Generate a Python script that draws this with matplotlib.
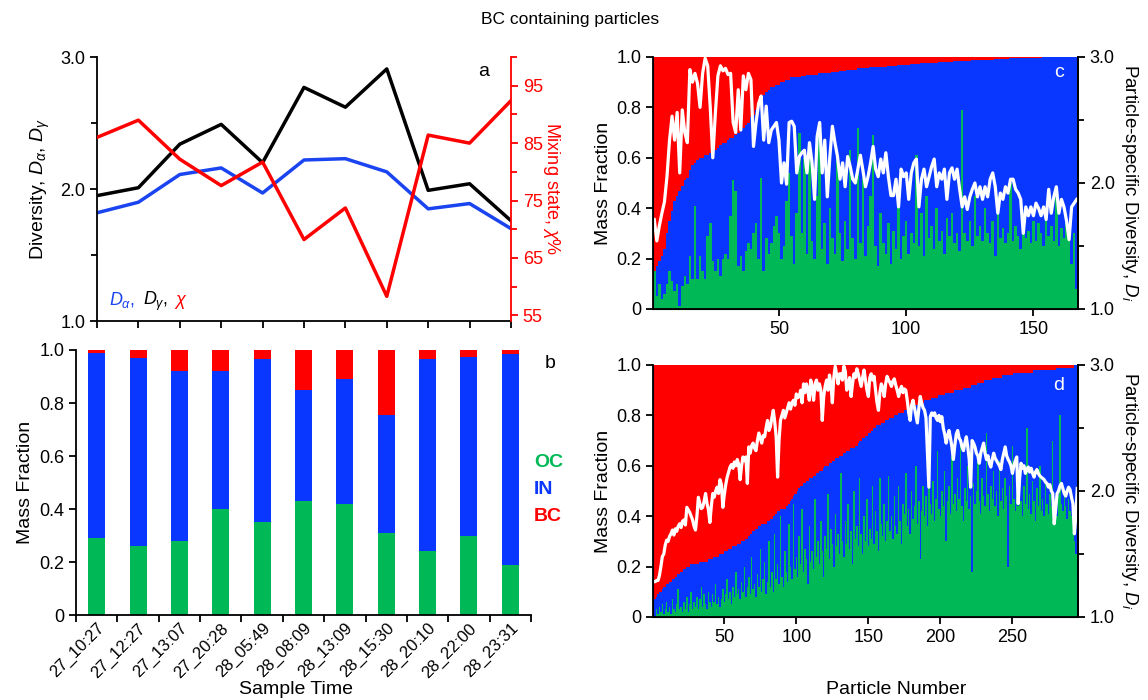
import numpy as np
import matplotlib
matplotlib.use("Agg")
import matplotlib.pyplot as plt
import matplotlib.transforms as mtransforms

plt.rcParams["font.family"] = ["Liberation Sans", "DejaVu Sans"]
plt.rcParams["mathtext.fontset"] = "custom"
plt.rcParams["mathtext.rm"] = "Liberation Sans"
plt.rcParams["mathtext.it"] = "Liberation Sans:italic"
plt.rcParams["font.size"] = 13

GREEN = "#00b956"
BLUE = "#0a37ff"
RED = "#ff0000"

# panel a / b: per-sample values
SAMPLE_TIMES = ["27_10:27", "27_12:27", "27_13:07", "27_20:28", "28_05:49", "28_08:09",
                "28_13:09", "28_15:30", "28_20:10", "28_22:00", "28_23:31"]
D_ALPHA = [1.82, 1.90, 2.11, 2.16, 1.97, 2.22, 2.23, 2.13, 1.85, 1.89, 1.70]
D_GAMMA = [1.95, 2.01, 2.34, 2.49, 2.20, 2.77, 2.62, 2.91, 1.99, 2.04, 1.76]
CHI = [86.0, 89.0, 82.2, 77.6, 81.7, 68.2, 73.7, 58.3, 86.4, 85.0, 92.4]
OC_MF = [0.29, 0.26, 0.28, 0.40, 0.35, 0.43, 0.42, 0.31, 0.24, 0.30, 0.19]
IN_MF = [0.70, 0.71, 0.64, 0.52, 0.615, 0.42, 0.47, 0.445, 0.725, 0.675, 0.795]
BC_MF = [0.01, 0.03, 0.08, 0.08, 0.035, 0.15, 0.11, 0.245, 0.035, 0.025, 0.015]

# panel c: 167 particles
C_OC = [0.15, 0.05, 0.10, 0.04, 0.06, 0.10, 0.15, 0.11, 0.07, 0.10,
        0.01, 0.09, 0.13, 0.10, 0.21, 0.12, 0.41, 0.12, 0.21, 0.15,
        0.12, 0.29, 0.34, 0.19, 0.15, 0.20, 0.13, 0.20, 0.22, 0.20,
        0.37, 0.51, 0.47, 0.17, 0.21, 0.15, 0.23, 0.26, 0.24, 0.30,
        0.34, 0.20, 0.52, 0.15, 0.28, 0.22, 0.26, 0.33, 0.37, 0.30,
        0.20, 0.25, 0.43, 0.54, 0.29, 0.18, 0.38, 0.70, 0.30, 0.60,
        0.22, 0.64, 0.27, 0.20, 0.45, 0.74, 0.24, 0.34, 0.18, 0.40,
        0.28, 0.22, 0.59, 0.30, 0.19, 0.35, 0.24, 0.63, 0.28, 0.20,
        0.72, 0.26, 0.52, 0.21, 0.33, 0.45, 0.69, 0.25, 0.17, 0.38,
        0.26, 0.22, 0.34, 0.18, 0.31, 0.24, 0.42, 0.20, 0.29, 0.35,
        0.22, 0.30, 0.26, 0.61, 0.25, 0.38, 0.21, 0.45, 0.28, 0.33,
        0.24, 0.40, 0.27, 0.31, 0.22, 0.36, 0.29, 0.38, 0.26, 0.30,
        0.23, 0.79, 0.30, 0.27, 0.35, 0.25, 0.45, 0.29, 0.33, 0.27,
        0.40, 0.30, 0.26, 0.35, 0.21, 0.45, 0.28, 0.32, 0.26, 0.30,
        0.50, 0.27, 0.33, 0.29, 0.24, 0.38, 0.28, 0.31, 0.26, 0.35,
        0.27, 0.34, 0.30, 0.25, 0.36, 0.29, 0.33, 0.27, 0.44, 0.25,
        0.32, 0.28, 0.34, 0.29, 0.18, 0.30, 0.08]
C_OC_IN = [0.15, 0.17, 0.19, 0.21, 0.24, 0.30, 0.35, 0.39, 0.43, 0.45,
           0.47, 0.49, 0.51, 0.52, 0.55, 0.57, 0.58, 0.59, 0.60, 0.60,
           0.61, 0.61, 0.62, 0.62, 0.63, 0.64, 0.65, 0.66, 0.66, 0.67,
           0.68, 0.68, 0.69, 0.70, 0.71, 0.72, 0.73, 0.74, 0.76, 0.77,
           0.79, 0.81, 0.83, 0.85, 0.86, 0.87, 0.88, 0.88, 0.89, 0.89,
           0.90, 0.90, 0.91, 0.91, 0.92, 0.92, 0.92, 0.92, 0.925, 0.925,
           0.93, 0.93, 0.93, 0.93, 0.93, 0.935, 0.935, 0.935, 0.935, 0.935,
           0.94, 0.94, 0.94, 0.945, 0.945, 0.945, 0.95, 0.95, 0.95, 0.95,
           0.955, 0.955, 0.955, 0.955, 0.955, 0.96, 0.96, 0.96, 0.96, 0.96,
           0.96, 0.96, 0.965, 0.965, 0.965, 0.965, 0.97, 0.97, 0.97, 0.97,
           0.97, 0.972, 0.972, 0.974, 0.974, 0.975, 0.975, 0.976, 0.976, 0.977,
           0.977, 0.978, 0.979, 0.98, 0.98, 0.981, 0.982, 0.982, 0.983, 0.984,
           0.984, 0.985, 0.985, 0.986, 0.986, 0.987, 0.987, 0.988, 0.988, 0.989,
           0.989, 0.99, 0.99, 0.99, 0.991, 0.991, 0.992, 0.992, 0.993, 0.993,
           0.994, 0.994, 0.994, 0.995, 0.995, 0.995, 0.996, 0.996, 0.996, 0.997,
           0.997, 0.997, 0.997, 0.998, 0.998, 0.998, 0.998, 0.999, 0.999, 0.999,
           0.999, 0.999, 1.0, 1.0, 1.0, 1.0, 1.0]
C_DIV = [1.71, 1.54, 1.66, 1.76, 1.85, 2.05, 2.34, 2.53, 2.34, 2.56,
         2.08, 2.58, 2.40, 2.32, 2.90, 2.80, 2.87, 2.79, 2.60, 2.87,
         2.99, 2.93, 2.60, 2.20, 2.55, 2.85, 2.93, 2.89, 2.91, 2.86,
         2.87, 2.48, 2.40, 2.74, 2.42, 2.85, 2.74, 2.87, 2.82, 2.29,
         2.48, 2.63, 2.69, 2.34, 2.61, 2.32, 2.42, 2.45, 2.48, 2.34,
         2.00, 2.16, 1.99, 2.48, 2.49, 2.45, 2.08, 2.21, 2.24, 2.26,
         2.08, 2.32, 2.16, 1.87, 2.37, 2.48, 2.08, 2.34, 1.89, 2.21,
         2.45, 2.32, 2.21, 2.03, 2.16, 1.97, 2.21, 2.13, 2.03, 2.00,
         2.11, 2.22, 2.10, 1.97, 2.05, 2.16, 2.29, 2.11, 2.05, 2.19,
         2.08, 2.24, 2.05, 1.90, 1.90, 2.03, 1.81, 2.11, 2.05, 2.08,
         1.87, 2.08, 2.16, 2.19, 1.81, 2.03, 2.11, 1.97, 2.05, 2.13,
         2.19, 1.97, 2.08, 2.03, 2.11, 1.87, 2.08, 2.12, 2.03, 2.11,
         1.95, 1.81, 1.89, 1.79, 1.89, 1.95, 2.00, 1.89, 1.97, 1.87,
         1.97, 1.89, 2.03, 2.08, 1.97, 1.76, 1.92, 1.87, 1.97, 1.92,
         2.03, 2.03, 1.95, 1.92, 1.87, 1.60, 1.81, 1.74, 1.81, 1.74,
         1.84, 1.80, 1.74, 1.81, 1.71, 1.95, 1.76, 1.89, 1.97, 1.76,
         1.87, 1.81, 1.70, 1.55, 1.81, 1.84, 1.87]

# panel d: 295 particles
D_OC = [0.02, 0.00, 0.03, 0.01, 0.04, 0.02, 0.05, 0.01, 0.03, 0.06,
        0.02, 0.04, 0.01, 0.07, 0.03, 0.02, 0.05, 0.11, 0.03, 0.04,
        0.02, 0.06, 0.03, 0.08, 0.02, 0.05, 0.10, 0.03, 0.06, 0.04,
        0.08, 0.03, 0.07, 0.12, 0.04, 0.09, 0.05, 0.03, 0.10, 0.06,
        0.04, 0.09, 0.06, 0.13, 0.05, 0.08, 0.04, 0.07, 0.11, 0.06,
        0.09, 0.15, 0.07, 0.10, 0.05, 0.12, 0.08, 0.18, 0.09, 0.11,
        0.07, 0.14, 0.10, 0.20, 0.08, 0.12, 0.16, 0.09, 0.24, 0.11,
        0.13, 0.08, 0.17, 0.12, 0.27, 0.10, 0.15, 0.22, 0.09, 0.14,
        0.30, 0.12, 0.18, 0.10, 0.33, 0.15, 0.21, 0.13, 0.40, 0.16,
        0.12, 0.26, 0.18, 0.14, 0.37, 0.20, 0.15, 0.45, 0.19, 0.24,
        0.16, 0.32, 0.21, 0.43, 0.18, 0.27, 0.23, 0.13, 0.36, 0.22,
        0.26, 0.19, 0.47, 0.24, 0.30, 0.21, 0.38, 0.26, 0.16, 0.32,
        0.27, 0.49, 0.23, 0.35, 0.29, 0.20, 0.41, 0.28, 0.33, 0.25,
        0.57, 0.30, 0.24, 0.38, 0.29, 0.45, 0.27, 0.34, 0.21, 0.50,
        0.31, 0.36, 0.28, 0.55, 0.33, 0.25, 0.40, 0.30, 0.47, 0.28,
        0.35, 0.31, 0.52, 0.29, 0.42, 0.34, 0.26, 0.55, 0.37, 0.32,
        0.45, 0.30, 0.38, 0.56, 0.34, 0.40, 0.31, 0.48, 0.36, 0.33,
        0.52, 0.38, 0.29, 0.45, 0.41, 0.57, 0.36, 0.43, 0.33, 0.50,
        0.39, 0.44, 0.60, 0.37, 0.46, 0.23, 0.42, 0.52, 0.40, 0.48,
        0.36, 0.62, 0.45, 0.41, 0.54, 0.38, 0.47, 0.66, 0.43, 0.40,
        0.50, 0.44, 0.58, 0.30, 0.46, 0.52, 0.41, 0.64, 0.45, 0.49,
        0.42, 0.55, 0.47, 0.70, 0.44, 0.38, 0.51, 0.46, 0.60, 0.43,
        0.48, 0.18, 0.53, 0.45, 0.50, 0.62, 0.46, 0.41, 0.55, 0.48,
        0.44, 0.73, 0.49, 0.42, 0.52, 0.47, 0.58, 0.44, 0.50, 0.40,
        0.62, 0.46, 0.51, 0.43, 0.55, 0.48, 0.20, 0.52, 0.45, 0.68,
        0.47, 0.42, 0.50, 0.44, 0.57, 0.46, 0.40, 0.52, 0.45, 0.75,
        0.43, 0.49, 0.41, 0.54, 0.46, 0.38, 0.51, 0.44, 0.60, 0.42,
        0.47, 0.40, 0.53, 0.45, 0.41, 0.49, 0.44, 0.70, 0.43, 0.46,
        0.40, 0.48, 0.80, 0.45, 0.42, 0.50, 0.44, 0.39, 0.47, 0.42,
        0.40, 0.38, 0.30, 0.25, 0.15]
D_OC_IN = [0.06, 0.07, 0.08, 0.09, 0.10, 0.10, 0.11, 0.12, 0.12, 0.13,
           0.13, 0.14, 0.14, 0.15, 0.15, 0.16, 0.16, 0.17, 0.17, 0.18,
           0.18, 0.19, 0.19, 0.20, 0.20, 0.20, 0.21, 0.21, 0.21, 0.21,
           0.21, 0.21, 0.22, 0.22, 0.22, 0.22, 0.22, 0.22, 0.23, 0.23,
           0.23, 0.23, 0.24, 0.24, 0.24, 0.24, 0.25, 0.25, 0.25, 0.26,
           0.26, 0.26, 0.27, 0.27, 0.27, 0.28, 0.28, 0.28, 0.29, 0.29,
           0.29, 0.30, 0.30, 0.30, 0.31, 0.31, 0.32, 0.33, 0.33, 0.34,
           0.34, 0.35, 0.35, 0.36, 0.36, 0.37, 0.37, 0.37, 0.37, 0.38,
           0.38, 0.39, 0.39, 0.40, 0.40, 0.41, 0.42, 0.42, 0.43, 0.43,
           0.43, 0.43, 0.44, 0.44, 0.45, 0.46, 0.47, 0.48, 0.49, 0.49,
           0.50, 0.51, 0.52, 0.52, 0.53, 0.53, 0.54, 0.54, 0.55, 0.55,
           0.55, 0.56, 0.56, 0.57, 0.57, 0.58, 0.58, 0.58, 0.59, 0.60,
           0.60, 0.60, 0.61, 0.61, 0.62, 0.62, 0.63, 0.63, 0.63, 0.64,
           0.64, 0.64, 0.65, 0.65, 0.66, 0.66, 0.66, 0.67, 0.67, 0.67,
           0.68, 0.68, 0.69, 0.70, 0.70, 0.71, 0.71, 0.72, 0.72, 0.73,
           0.73, 0.74, 0.74, 0.75, 0.75, 0.76, 0.76, 0.76, 0.77, 0.77,
           0.77, 0.78, 0.78, 0.78, 0.79, 0.79, 0.79, 0.80, 0.80, 0.80,
           0.81, 0.81, 0.81, 0.81, 0.82, 0.82, 0.82, 0.83, 0.83, 0.83,
           0.84, 0.84, 0.84, 0.84, 0.85, 0.85, 0.85, 0.85, 0.86, 0.86,
           0.86, 0.86, 0.86, 0.87, 0.87, 0.87, 0.87, 0.87, 0.88, 0.88,
           0.88, 0.88, 0.88, 0.89, 0.89, 0.89, 0.89, 0.89, 0.89, 0.90,
           0.90, 0.90, 0.90, 0.90, 0.90, 0.91, 0.91, 0.91, 0.91, 0.91,
           0.91, 0.92, 0.92, 0.92, 0.92, 0.93, 0.93, 0.93, 0.93, 0.93,
           0.94, 0.94, 0.94, 0.94, 0.94, 0.95, 0.95, 0.95, 0.95, 0.95,
           0.95, 0.95, 0.96, 0.96, 0.96, 0.96, 0.96, 0.96, 0.96, 0.96,
           0.97, 0.97, 0.97, 0.97, 0.97, 0.97, 0.97, 0.97, 0.97, 0.97,
           0.97, 0.97, 0.97, 0.97, 0.98, 0.98, 0.98, 0.98, 0.98, 0.98,
           0.98, 0.98, 0.98, 0.98, 0.98, 0.98, 0.98, 0.98, 0.98, 0.98,
           0.99, 0.99, 0.99, 0.99, 0.99, 0.99, 0.99, 0.99, 0.99, 0.99,
           0.99, 0.99, 1.0, 1.0, 1.0]
D_DIV = [1.28, 1.28, 1.29, 1.29, 1.33, 1.40, 1.48, 1.50, 1.57, 1.61,
         1.60, 1.64, 1.66, 1.69, 1.65, 1.70, 1.68, 1.72, 1.74, 1.71,
         1.76, 1.77, 1.73, 1.87, 1.85, 1.83, 1.80, 1.77, 1.72, 1.69,
         1.80, 1.95, 1.90, 1.86, 1.87, 1.92, 1.98, 1.90, 1.85, 1.75,
         1.88, 1.98, 1.95, 2.00, 2.03, 1.98, 2.09, 2.05, 1.87, 1.97,
         2.05, 2.11, 2.15, 2.19, 2.21, 2.18, 2.23, 2.20, 2.25, 2.21,
         2.09, 2.20, 2.27, 2.24, 2.27, 2.06, 2.35, 2.30, 2.36, 2.38,
         2.34, 2.32, 2.40, 2.46, 2.42, 2.38, 2.44, 2.43, 2.50, 2.56,
         2.48, 2.51, 2.58, 2.64, 2.55, 2.43, 2.11, 2.40, 2.56, 2.60,
         2.64, 2.58, 2.62, 2.66, 2.70, 2.65, 2.70, 2.72, 2.68, 2.77,
         2.74, 2.75, 2.80, 2.70, 2.85, 2.78, 2.85, 2.80, 2.72, 2.88,
         2.82, 2.72, 2.85, 2.88, 2.80, 2.85, 2.80, 2.56, 2.75, 2.83,
         2.88, 2.80, 2.92, 2.85, 2.70, 2.90, 2.99, 2.92, 2.85, 2.93,
         2.93, 2.88, 2.99, 2.95, 2.80, 2.83, 2.90, 2.75, 2.85, 2.93,
         2.90, 2.97, 2.93, 2.88, 2.83, 2.90, 2.96, 2.88, 2.80, 2.75,
         2.90, 2.93, 2.88, 2.91, 2.80, 2.70, 2.64, 2.78, 2.85, 2.82,
         2.75, 2.85, 2.91, 2.88, 2.86, 2.83, 2.87, 2.89, 2.84, 2.80,
         2.75, 2.80, 2.83, 2.78, 2.81, 2.80, 2.72, 2.62, 2.56, 2.68,
         2.72, 2.66, 2.60, 2.54, 2.65, 2.75, 2.70, 2.66, 2.64, 2.58,
         2.30, 2.03, 2.59, 2.62, 2.60, 2.62, 2.58, 2.56, 2.60, 2.55,
         2.59, 2.50, 2.45, 2.38, 2.44, 2.48, 2.42, 2.35, 2.25, 2.36,
         2.45, 2.48, 2.42, 2.40, 2.35, 2.32, 2.38, 2.43, 2.35, 2.25,
         2.03, 2.40, 2.38, 2.35, 2.30, 2.28, 2.22, 2.30, 2.34, 2.38,
         2.30, 2.25, 2.28, 2.22, 2.19, 2.25, 2.30, 2.26, 2.24, 2.22,
         2.20, 2.17, 2.25, 2.30, 2.35, 2.28, 2.25, 2.23, 2.20, 2.14,
         2.20, 2.24, 2.27, 1.90, 2.10, 2.22, 2.18, 2.20, 2.14, 2.17,
         2.19, 2.15, 2.18, 2.14, 2.11, 2.15, 2.17, 2.14, 2.12, 2.11,
         2.10, 2.09, 2.07, 2.06, 2.03, 2.05, 2.00, 1.98, 1.74, 1.85,
         1.98, 2.00, 2.04, 2.06, 2.02, 1.98, 1.96, 2.00, 2.03, 2.01,
         1.95, 1.90, 1.66, 1.80, 2.02]


def style_spines(ax, right=False):
    ax.spines["top"].set_visible(False)
    ax.spines["right"].set_visible(right)
    for s in ax.spines.values():
        s.set_linewidth(1.3)
    ax.tick_params(direction="out", width=1.3, length=5)


def diversity_panel(fig):
    ax = fig.add_axes([0.0845, 0.5414, 0.3606, 0.3771])
    x = np.arange(len(SAMPLE_TIMES))
    ax.plot(x, D_ALPHA, color="#1a44f0", lw=2.5)
    ax.plot(x, D_GAMMA, color="black", lw=2.5)
    ax.set_xlim(0, len(SAMPLE_TIMES) - 1)
    ax.set_ylim(1.0, 3.0)
    ax.set_xticks(x)
    ax.set_xticklabels([])
    ax.set_yticks([1.0, 2.0, 3.0])
    ax.set_yticklabels(["1.0", "2.0", "3.0"])
    ax.set_yticks([1.5, 2.5], minor=True)
    style_spines(ax)
    ax.tick_params(which="minor", direction="out", width=1.3, length=4)
    ax.set_ylabel(r"Diversity, $D_\alpha$, $D_\gamma$", fontsize=14, labelpad=6)

    ax2 = ax.twinx()
    ax2.plot(x, CHI, color=RED, lw=2.5)
    ax2.set_ylim(54, 100)
    ax2.set_yticks([55, 65, 75, 85, 95])
    ax2.set_yticks([60, 70, 80, 90, 100], minor=True)
    for k in ("top", "left", "bottom"):
        ax2.spines[k].set_visible(False)
    ax2.spines["right"].set_color(RED)
    ax2.spines["right"].set_linewidth(1.3)
    ax2.tick_params(which="both", colors=RED, direction="out", width=1.3)
    ax2.tick_params(which="major", length=5)
    ax2.tick_params(which="minor", length=4)
    ax2.set_ylabel(r"Mixing state, $\chi$%", color=RED, rotation=270,
                   labelpad=14, fontsize=13)

    ax.text(0.03, 0.06, r"$D_\alpha$,", color="#1a44f0", transform=ax.transAxes, fontsize=13)
    ax.text(0.11, 0.06, r"$D_\gamma$,", color="black", transform=ax.transAxes, fontsize=13)
    ax.text(0.185, 0.06, r"$\chi$", color=RED, transform=ax.transAxes, fontsize=13)
    ax.text(0.92, 0.93, "a", transform=ax.transAxes, fontsize=14)


def mass_fraction_panel(fig):
    ax = fig.add_axes([0.0662, 0.1214, 0.3963, 0.3786])
    x = np.arange(len(SAMPLE_TIMES))
    oc = np.array(OC_MF)
    inn = np.array(IN_MF)
    bc = np.array(BC_MF)
    ax.bar(x, oc, width=0.41, color=GREEN)
    ax.bar(x, inn, width=0.41, bottom=oc, color=BLUE)
    ax.bar(x, bc, width=0.41, bottom=oc + inn, color=RED)
    ax.set_xlim(-0.5, len(x) - 0.5)
    ax.set_ylim(0, 1.0)
    ax.set_yticks([0, 0.2, 0.4, 0.6, 0.8, 1.0])
    ax.set_yticklabels(["0", "0.2", "0.4", "0.6", "0.8", "1.0"])
    ax.set_xticks(np.arange(len(x) + 1) - 0.5)
    ax.set_xticklabels([])
    ax.set_xticks(x, minor=True)
    ax.set_xticklabels(SAMPLE_TIMES, minor=True, rotation=45, ha="right",
                       rotation_mode="anchor", fontsize=12)
    shift = mtransforms.ScaledTranslation(10 / 100, 0, fig.dpi_scale_trans)
    for lab in ax.get_xticklabels(minor=True):
        lab.set_transform(lab.get_transform() + shift)
    style_spines(ax)
    ax.tick_params(which="minor", length=0, pad=4)
    ax.set_ylabel("Mass Fraction", fontsize=14)
    fig.text(0.258, 0.0143, "Sample Time", ha="center", va="center", fontsize=14)
    ax.text(1.03, 0.95, "b", transform=ax.transAxes, fontsize=14, va="center")
    for lab, col, yy in (("OC", GREEN, 0.574), ("IN", BLUE, 0.472), ("BC", RED, 0.37)):
        ax.text(1.007, yy, lab, color=col, fontweight="bold", fontsize=14,
                va="center", transform=ax.transAxes)


def particle_panel(fig, rect, oc, oc_in, div, letter, letter_y, xticks):
    ax = fig.add_axes(rect)
    n = len(oc)
    edges = np.arange(n + 1) + 0.5
    ax.stairs(np.ones(n), edges, baseline=0, fill=True, color=RED, lw=0)
    ax.stairs(oc_in, edges, baseline=0, fill=True, color=BLUE, lw=0)
    ax.stairs(oc, edges, baseline=0, fill=True, color=GREEN, lw=0)
    ax.set_xlim(0.5, n + 0.5)
    ax.set_ylim(0, 1.0)
    ax.set_xticks(xticks)
    ax.set_yticks([0, 0.2, 0.4, 0.6, 0.8, 1.0])
    ax.set_yticklabels(["0", "0.2", "0.4", "0.6", "0.8", "1.0"])
    style_spines(ax, right=True)
    ax.set_ylabel("Mass Fraction", fontsize=14, labelpad=3)
    ax.text(0.955, letter_y, letter, color="white", transform=ax.transAxes,
            fontsize=14, ha="center", va="center")

    ax2 = ax.twinx()
    ax2.plot(np.arange(1, n + 1), div, color="white", lw=2.3,
             solid_joinstyle="round")
    ax2.set_ylim(1.0, 3.0)
    ax2.set_yticks([1.0, 2.0, 3.0])
    ax2.set_yticklabels(["1.0", "2.0", "3.0"])
    ax2.set_yticks([1.5, 2.5], minor=True)
    ax2.spines["top"].set_visible(False)
    ax2.spines["right"].set_linewidth(1.3)
    ax2.tick_params(which="both", direction="out", width=1.3)
    ax2.tick_params(which="major", length=5)
    ax2.tick_params(which="minor", length=4)
    ax2.set_ylabel(r"Particle-specific Diversity, $D_i$", rotation=270,
                   labelpad=18, fontsize=13.5)
    return ax


fig = plt.figure(figsize=(11.48, 7.0), dpi=100)
fig.text(0.497, 0.972, "BC containing particles", ha="center", va="center", fontsize=12.5)

diversity_panel(fig)
mass_fraction_panel(fig)
particle_panel(fig, [0.5688, 0.5586, 0.3702, 0.36], C_OC, C_OC_IN, C_DIV, "c", 0.937,
               [50, 100, 150])
particle_panel(fig, [0.5688, 0.1186, 0.3702, 0.36], D_OC, D_OC_IN, D_DIV, "d", 0.92,
               [50, 100, 150, 200, 250])
fig.text(0.781, 0.0143, "Particle Number", ha="center", va="center", fontsize=14)

fig.savefig("out.png", dpi=100)
